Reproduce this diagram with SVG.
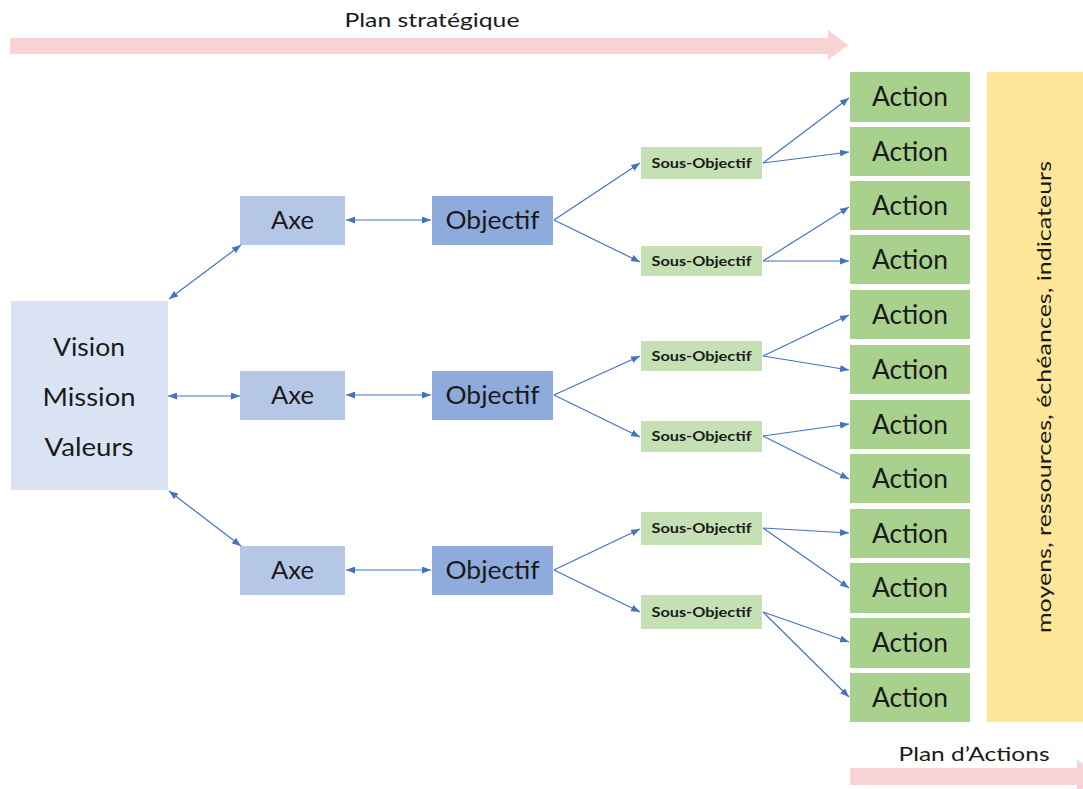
<svg xmlns="http://www.w3.org/2000/svg" width="1083" height="789" viewBox="0 0 1083 789">
<defs>
<marker id="ah" viewBox="0 0 10 10" refX="10" refY="5" markerWidth="9" markerHeight="7" markerUnits="userSpaceOnUse" orient="auto-start-reverse" preserveAspectRatio="none">
<path d="M0,0 L10,5 L0,10 z" fill="#4472c4"/>
</marker>
<style>
text{font-family:Lato,"Open Sans","Liberation Sans",sans-serif;fill:#1a1a1a;text-anchor:middle;dominant-baseline:central}
.vision{fill:#dae3f3}
.axe{fill:#b4c7e7}
.obj{fill:#8faadc}
.sous{fill:#c5e0b4}
.act{fill:#a9d18e}
.res{fill:#ffe699}
.band{fill:#f8d3d3}
.big{font-size:25px}
.act-t{font-size:26px}
.so-t{font-size:13px;font-weight:bold}
.lbl{font-size:20px}
#connectors line{stroke:#4472c4;stroke-width:1.2;fill:none}
.both{marker-start:url(#ah);marker-end:url(#ah)}
.one{marker-end:url(#ah)}
</style>
</defs>
<rect width="1083" height="789" fill="#ffffff"/>

<g id="plan-strategique">
<path class="band" d="M10,38 H828 V30 L848,45 L828,60 V54 H10 z"/>
<text class="lbl" x="432" y="19" textLength="175" lengthAdjust="spacingAndGlyphs">Plan stratégique</text>
</g>

<g id="plan-actions">
<path class="band" d="M850,768 H1077 V759 L1097,776 L1077,793 V785 H850 z"/>
<text class="lbl" x="974" y="753" textLength="151" lengthAdjust="spacingAndGlyphs">Plan d’Actions</text>
</g>

<g id="vision">
<rect class="vision" x="11" y="301" width="157" height="189"/>
<text class="big" x="89" y="346" textLength="72" lengthAdjust="spacingAndGlyphs">Vision</text>
<text class="big" x="89" y="396" textLength="93" lengthAdjust="spacingAndGlyphs">Mission</text>
<text class="big" x="89" y="446" textLength="89" lengthAdjust="spacingAndGlyphs">Valeurs</text>
</g>

<g id="axe1"><rect class="axe" x="240" y="196" width="105" height="49"/><text class="big" x="292.5" y="219" textLength="43" lengthAdjust="spacingAndGlyphs">Axe</text></g>
<g id="axe2"><rect class="axe" x="240" y="371" width="105" height="49"/><text class="big" x="292.5" y="394" textLength="43" lengthAdjust="spacingAndGlyphs">Axe</text></g>
<g id="axe3"><rect class="axe" x="240" y="546" width="105" height="49"/><text class="big" x="292.5" y="569" textLength="43" lengthAdjust="spacingAndGlyphs">Axe</text></g>

<g id="objectif1"><rect class="obj" x="432" y="196" width="121" height="49"/><text class="big" x="492.5" y="219" textLength="94" lengthAdjust="spacingAndGlyphs">Objectif</text></g>
<g id="objectif2"><rect class="obj" x="432" y="371" width="121" height="49"/><text class="big" x="492.5" y="394" textLength="94" lengthAdjust="spacingAndGlyphs">Objectif</text></g>
<g id="objectif3"><rect class="obj" x="432" y="546" width="121" height="49"/><text class="big" x="492.5" y="569" textLength="94" lengthAdjust="spacingAndGlyphs">Objectif</text></g>

<g id="sous1"><rect class="sous" x="641" y="147" width="121" height="32"/><text class="so-t" x="701.5" y="162.5" textLength="100" lengthAdjust="spacingAndGlyphs">Sous-Objectif</text></g>
<g id="sous2"><rect class="sous" x="641" y="246" width="121" height="30"/><text class="so-t" x="701.5" y="260.5" textLength="100" lengthAdjust="spacingAndGlyphs">Sous-Objectif</text></g>
<g id="sous3"><rect class="sous" x="641" y="341" width="121" height="30"/><text class="so-t" x="701.5" y="355.5" textLength="100" lengthAdjust="spacingAndGlyphs">Sous-Objectif</text></g>
<g id="sous4"><rect class="sous" x="641" y="421" width="121" height="31"/><text class="so-t" x="701.5" y="435.5" textLength="100" lengthAdjust="spacingAndGlyphs">Sous-Objectif</text></g>
<g id="sous5"><rect class="sous" x="641" y="512" width="121" height="33"/><text class="so-t" x="701.5" y="527.5" textLength="100" lengthAdjust="spacingAndGlyphs">Sous-Objectif</text></g>
<g id="sous6"><rect class="sous" x="641" y="595" width="121" height="34"/><text class="so-t" x="701.5" y="611.5" textLength="100" lengthAdjust="spacingAndGlyphs">Sous-Objectif</text></g>

<g id="action1"><rect class="act" x="850" y="72" width="120" height="50"/><text class="act-t" x="910" y="96" textLength="76" lengthAdjust="spacingAndGlyphs">Action</text></g>
<g id="action2"><rect class="act" x="850" y="127" width="120" height="49"/><text class="act-t" x="910" y="150.5" textLength="76" lengthAdjust="spacingAndGlyphs">Action</text></g>
<g id="action3"><rect class="act" x="850" y="181" width="120" height="49"/><text class="act-t" x="910" y="204.5" textLength="76" lengthAdjust="spacingAndGlyphs">Action</text></g>
<g id="action4"><rect class="act" x="850" y="235" width="120" height="49"/><text class="act-t" x="910" y="258.5" textLength="76" lengthAdjust="spacingAndGlyphs">Action</text></g>
<g id="action5"><rect class="act" x="850" y="290" width="120" height="49"/><text class="act-t" x="910" y="313.5" textLength="76" lengthAdjust="spacingAndGlyphs">Action</text></g>
<g id="action6"><rect class="act" x="850" y="345" width="120" height="49"/><text class="act-t" x="910" y="368.5" textLength="76" lengthAdjust="spacingAndGlyphs">Action</text></g>
<g id="action7"><rect class="act" x="850" y="400" width="120" height="49"/><text class="act-t" x="910" y="423.5" textLength="76" lengthAdjust="spacingAndGlyphs">Action</text></g>
<g id="action8"><rect class="act" x="850" y="454" width="120" height="49"/><text class="act-t" x="910" y="477.5" textLength="76" lengthAdjust="spacingAndGlyphs">Action</text></g>
<g id="action9"><rect class="act" x="850" y="509" width="120" height="49"/><text class="act-t" x="910" y="532.5" textLength="76" lengthAdjust="spacingAndGlyphs">Action</text></g>
<g id="action10"><rect class="act" x="850" y="563" width="120" height="50"/><text class="act-t" x="910" y="587" textLength="76" lengthAdjust="spacingAndGlyphs">Action</text></g>
<g id="action11"><rect class="act" x="850" y="618" width="120" height="50"/><text class="act-t" x="910" y="642" textLength="76" lengthAdjust="spacingAndGlyphs">Action</text></g>
<g id="action12"><rect class="act" x="850" y="673" width="120" height="49"/><text class="act-t" x="910" y="696.5" textLength="76" lengthAdjust="spacingAndGlyphs">Action</text></g>

<g id="ressources">
<rect class="res" x="987" y="72" width="96" height="650"/>
<text class="lbl" transform="translate(1043,397) rotate(-90)" x="0" y="0" textLength="472" lengthAdjust="spacingAndGlyphs">moyens, ressources, échéances, indicateurs</text>
</g>

<g id="connectors">
<line class="both" x1="169" y1="299" x2="241" y2="245"/>
<line class="both" x1="168" y1="396" x2="240" y2="396"/>
<line class="both" x1="169" y1="491" x2="241" y2="546"/>
<line class="both" x1="346" y1="220" x2="431" y2="220"/>
<line class="both" x1="346" y1="395" x2="431" y2="395"/>
<line class="both" x1="346" y1="570" x2="431" y2="570"/>
<line class="one" x1="554" y1="220" x2="640" y2="163"/>
<line class="one" x1="554" y1="220" x2="640" y2="262"/>
<line class="one" x1="554" y1="395" x2="640" y2="356"/>
<line class="one" x1="554" y1="395" x2="640" y2="437"/>
<line class="one" x1="554" y1="570" x2="640" y2="529"/>
<line class="one" x1="554" y1="570" x2="640" y2="612"/>
<line class="one" x1="763" y1="163" x2="849" y2="98"/>
<line class="one" x1="763" y1="163" x2="849" y2="152"/>
<line class="one" x1="763" y1="261" x2="849" y2="207"/>
<line class="one" x1="763" y1="261" x2="849" y2="261"/>
<line class="one" x1="763" y1="356" x2="849" y2="315"/>
<line class="one" x1="763" y1="356" x2="849" y2="370"/>
<line class="one" x1="763" y1="436" x2="849" y2="424"/>
<line class="one" x1="763" y1="436" x2="849" y2="479"/>
<line class="one" x1="763" y1="528" x2="849" y2="533"/>
<line class="one" x1="763" y1="528" x2="849" y2="588"/>
<line class="one" x1="763" y1="612" x2="849" y2="642"/>
<line class="one" x1="763" y1="612" x2="849" y2="697"/>
</g>
</svg>
